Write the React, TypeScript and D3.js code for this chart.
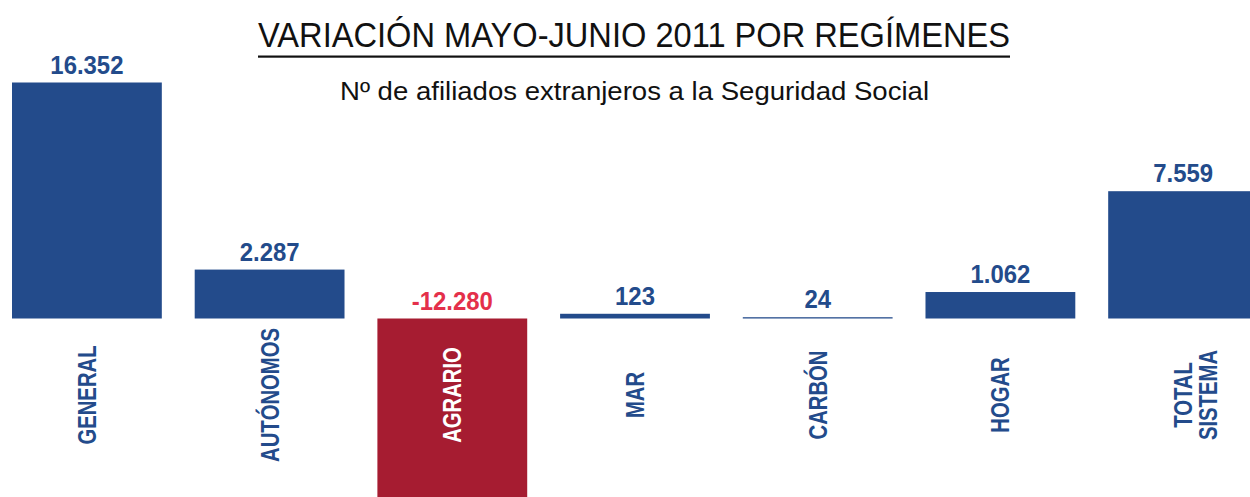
import React from "react";
import * as d3 from "d3";

const categories = ["GENERAL", "AUTÓNOMOS", "AGRARIO", "MAR", "CARBÓN", "HOGAR", "TOTAL SISTEMA"];
const categoryLines = [["GENERAL"], ["AUTÓNOMOS"], ["AGRARIO"], ["MAR"], ["CARBÓN"], ["HOGAR"], ["TOTAL", "SISTEMA"]];
const values = [16352, 2287, -12280, 123, 24, 1062, 7559];

const title = "VARIACIÓN MAYO-JUNIO 2011 POR REGÍMENES";
const subtitle = "Nº de afiliados extranjeros a la Seguridad Social";

const W = 1250;
const H = 497;
const BLUE = "#234b8b";
const RED_BAR = "#a61c31";
const RED_TEXT = "#e4304a";
const LABEL_FONT = "'Liberation Sans', Arial, sans-serif";
const TITLE_FONT = "'Liberation Sans', Arial, sans-serif";

const esLocale = d3.formatLocale({
  decimal: ",",
  thousands: ".",
  grouping: [3],
  currency: ["", " €"],
  minus: "-",
});
const fmt = esLocale.format(",d");

export default function App() {
  const x = d3.scaleBand<string>().domain(categories).range([12, 1258]).paddingInner(0.18).paddingOuter(0);
  const y = d3.scalePow().exponent(0.8).domain([0, d3.max(values) as number]).range([318.5, 82.5]);
  const y0 = y(0);

  return (
    <svg
      width={W}
      height={H}
      viewBox={`0 0 ${W} ${H}`}
      style={{ position: "absolute", left: 0, top: 0, display: "block", background: "#fff" }}
    >
      <rect x={0} y={0} width={W} height={H} fill="#fff" />
      <text
        x={634}
        y={47}
        textAnchor="middle"
        fontFamily={TITLE_FONT}
        fontSize={35}
        fill="#111"
        textLength={752}
        lengthAdjust="spacingAndGlyphs"
      >
        {title}
      </text>
      <rect x={258} y={55.5} width={752} height={2.2} fill="#111" />
      <text
        x={634.5}
        y={100}
        textAnchor="middle"
        fontFamily={TITLE_FONT}
        fontSize={25}
        fill="#111"
        textLength={589}
        lengthAdjust="spacingAndGlyphs"
      >
        {subtitle}
      </text>

      {categories.map((c, i) => {
        const v = values[i];
        const bx = x(c) as number;
        const bw = x.bandwidth();
        const yv = y(v);
        const top = Math.min(yv, y0);
        const h = Math.abs(yv - y0);
        const neg = v < 0;
        const cx = bx + bw / 2;
        const labelY = (neg ? y0 : yv) - 9;
        return (
          <g key={c}>
            <rect x={bx} y={top} width={bw} height={Math.max(h, 1)} fill={neg ? RED_BAR : BLUE} />
            <text
              transform={`translate(${cx},${labelY}) scale(0.92,1)`}
              textAnchor="middle"
              fontFamily={LABEL_FONT}
              fontWeight="bold"
              fontSize={26}
              fill={neg ? RED_TEXT : BLUE}
            >
              {fmt(v)}
            </text>
            <text
              transform={`translate(${cx},395) rotate(-90) scale(0.78,1)`}
              textAnchor="middle"
              dominantBaseline="central"
              fontFamily={LABEL_FONT}
              fontWeight="bold"
              fontSize={26}
              fill={neg ? "#ffffff" : BLUE}
            >
              {categoryLines[i].map((line, j) => (
                <tspan key={j} x={0} dy={j === 0 ? 0 : 25}>
                  {line}
                </tspan>
              ))}
            </text>
          </g>
        );
      })}
    </svg>
  );
}
